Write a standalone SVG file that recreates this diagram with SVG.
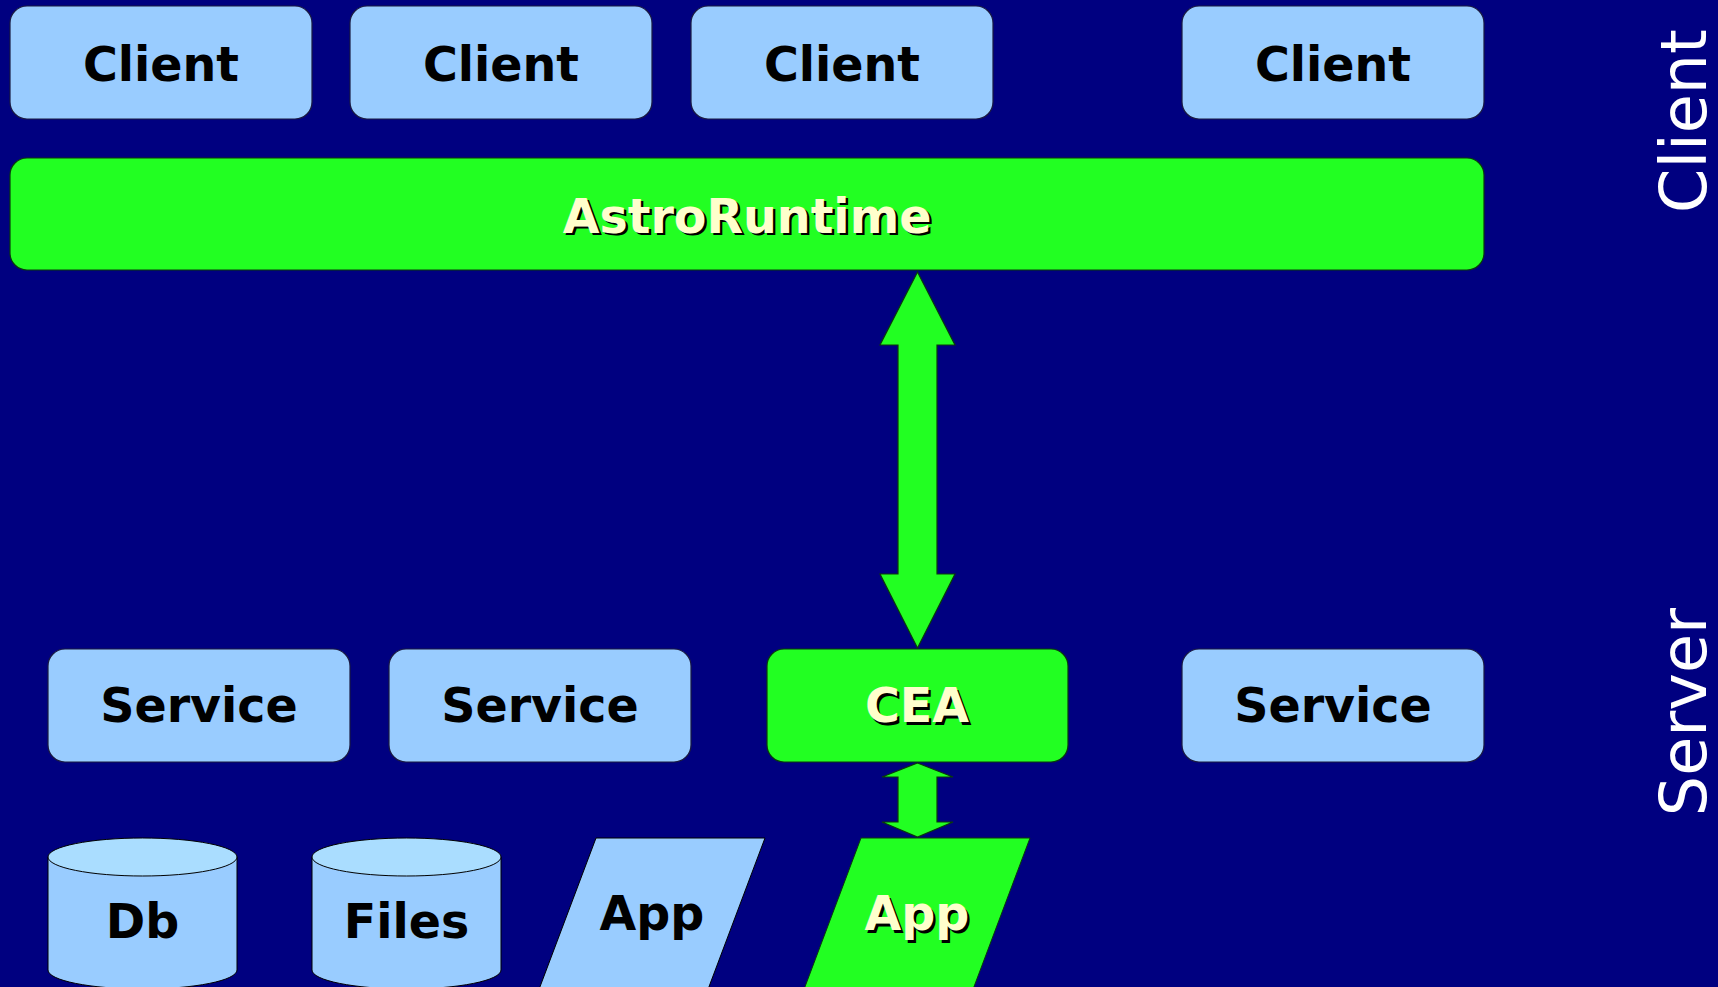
<svg xmlns="http://www.w3.org/2000/svg" width="1718" height="987" viewBox="0 0 1718 987">
<defs>
<style>
.blue{fill:#99ccff;stroke:#1a1a40;stroke-width:1.2}
.green{fill:#22ff22;stroke:#0a3a0a;stroke-width:1.2}
.lbl{font-family:"DejaVu Sans","Liberation Sans",sans-serif;font-weight:bold;font-size:47.5px;text-anchor:middle;fill:#000}
.hl{font-family:"DejaVu Sans","Liberation Sans",sans-serif;font-weight:bold;font-size:47.5px;text-anchor:middle;fill:#ffffcc}
.sh{font-family:"DejaVu Sans","Liberation Sans",sans-serif;font-weight:bold;font-size:47.5px;text-anchor:middle;fill:#000}
.side{font-family:"DejaVu Sans","Liberation Sans",sans-serif;font-size:63.5px;text-anchor:middle;fill:#fff}
.arrow{fill:#22ff22;stroke:#0a3a0a;stroke-width:1.2}
.cyltop{fill:#aaddff;stroke:#000;stroke-width:1}
.cylbody{fill:#99ccff;stroke:#000;stroke-width:1}
</style>
</defs>
<rect width="1718" height="987" fill="#000080"/>

<g id="client1"><rect class="blue" x="10" y="6" width="302" height="113" rx="17"/><text class="lbl" x="161" y="81">Client</text></g>
<g id="client2"><rect class="blue" x="350" y="6" width="302" height="113" rx="17"/><text class="lbl" x="501" y="81">Client</text></g>
<g id="client3"><rect class="blue" x="691" y="6" width="302" height="113" rx="17"/><text class="lbl" x="842" y="81">Client</text></g>
<g id="client4"><rect class="blue" x="1182" y="6" width="302" height="113" rx="17"/><text class="lbl" x="1333" y="81">Client</text></g>

<g id="astroruntime"><rect class="green" x="10" y="158" width="1474" height="112" rx="17"/><text class="sh" x="749.5" y="235">AstroRuntime</text><text class="hl" x="747" y="232.5">AstroRuntime</text></g>

<g id="service1"><rect class="blue" x="48" y="649" width="302" height="113" rx="17"/><text class="lbl" x="199" y="722">Service</text></g>
<g id="service2"><rect class="blue" x="389" y="649" width="302" height="113" rx="17"/><text class="lbl" x="540" y="722">Service</text></g>
<g id="cea"><rect class="green" x="767" y="649" width="301" height="113" rx="17"/><text class="sh" x="919.5" y="724.5">CEA</text><text class="hl" x="917" y="722">CEA</text></g>
<g id="service4"><rect class="blue" x="1182" y="649" width="302" height="113" rx="17"/><text class="lbl" x="1333" y="722">Service</text></g>

<g id="db">
<path class="cylbody" d="M48,857 L48,970 A94.5,19 0 0 0 237,970 L237,857 Z"/>
<ellipse class="cyltop" cx="142.5" cy="857" rx="94.5" ry="19"/>
<text class="lbl" x="142.5" y="938">Db</text>
</g>
<g id="files">
<path class="cylbody" d="M312,857 L312,970 A94.5,19 0 0 0 501,970 L501,857 Z"/>
<ellipse class="cyltop" cx="406.5" cy="857" rx="94.5" ry="19"/>
<text class="lbl" x="406.5" y="938">Files</text>
</g>
<g id="app1">
<polygon points="596,838 765,838 704,1000 535,1000" fill="#99ccff" stroke="#000" stroke-width="1"/>
<text class="lbl" x="652" y="930">App</text>
</g>
<g id="app2">
<polygon points="861,838 1030,838 969,1000 800,1000" fill="#22ff22" stroke="#0a3a0a" stroke-width="1"/>
<text class="sh" x="919.5" y="932.5">App</text><text class="hl" x="917" y="930">App</text>
</g>

<g id="connectors">
<polygon class="arrow" points="917.5,272 955,345 937,345 937,574 955,574 917.5,648 880,574 898,574 898,345 880,345"/>
<polygon class="arrow" points="917.5,763 953,777 937,777 937,822 953,822 917.5,837 882,822 898,822 898,777 882,777"/>
</g>

<text class="side" transform="translate(1706,121) rotate(-90)" x="0" y="0">Client</text>
<text class="side" transform="translate(1706,712) rotate(-90)" x="0" y="0">Server</text>
</svg>
